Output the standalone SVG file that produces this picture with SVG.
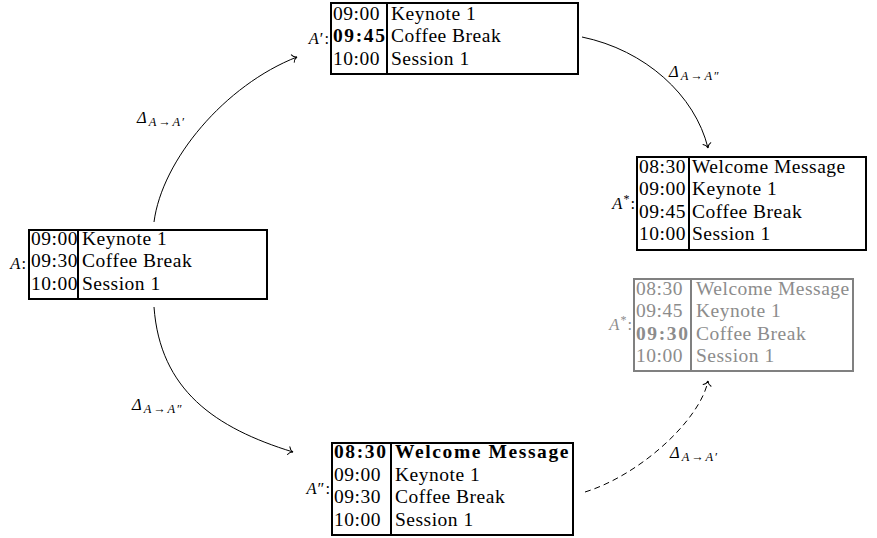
<svg xmlns="http://www.w3.org/2000/svg" width="877" height="538" viewBox="0 0 877 538">
  <style>
    .box { fill: #ffffff; stroke: #000000; stroke-width: 2; }
    .div { stroke: #000000; stroke-width: 2; }
    .t { font-family: "Liberation Serif", "Times New Roman", serif; font-size: 19.5px; letter-spacing: 0.5px; fill: #000000; }
    .b { font-weight: bold; letter-spacing: 1.6px; }
    .lab { font-family: "Liberation Serif", "Times New Roman", serif; font-size: 16.5px; letter-spacing: 1px; fill: #000000; }
    .it { font-style: italic; }
    .sub { font-size: 12.5px; letter-spacing: 1.8px; }
    .ghost .box, .ghost .div { stroke: #808080; }
    .ghost .t, .ghost .lab { fill: #8c8c8c; }
    .edge { fill: none; stroke: #000000; stroke-width: 1; }
    .dash { stroke-dasharray: 6 4; }
  </style>
  <defs>
    <marker id="to" markerUnits="userSpaceOnUse" markerWidth="12" markerHeight="12" viewBox="-6 -6 12 12" refX="0" refY="0" orient="auto">
      <path d="M-4.5,-4 C-3.5,-1.5 -1.2,-0.3 0,0 C-1.2,0.3 -3.5,1.5 -4.5,4" fill="none" stroke="#000000" stroke-width="1" stroke-linecap="round"/>
    </marker>
  </defs>

  <!-- transitions between schedule versions -->
  <g id="connectors">
    <path class="edge" d="M154,222 C162,160 225,85 297,57" marker-end="url(#to)"/>
    <path class="edge" d="M582,37 C645,50 695,95 708,148" marker-end="url(#to)"/>
    <path class="edge" d="M154,307 C160,390 215,428 293,452" marker-end="url(#to)"/>
    <path class="edge dash" d="M585,492 C640,475 700,420 708,381" marker-end="url(#to)"/>
    <text class="lab" x="137" y="123"><tspan class="it">Δ</tspan><tspan class="sub" dx="1" dy="3"><tspan class="it">A</tspan>→<tspan class="it">A</tspan>′</tspan></text>
    <text class="lab" x="669" y="77"><tspan class="it">Δ</tspan><tspan class="sub" dx="1" dy="3"><tspan class="it">A</tspan>→<tspan class="it">A</tspan>″</tspan></text>
    <text class="lab" x="132" y="410"><tspan class="it">Δ</tspan><tspan class="sub" dx="1" dy="3"><tspan class="it">A</tspan>→<tspan class="it">A</tspan>″</tspan></text>
    <text class="lab" x="670" y="458"><tspan class="it">Δ</tspan><tspan class="sub" dx="1" dy="3"><tspan class="it">A</tspan>→<tspan class="it">A</tspan>′</tspan></text>
  </g>

  <!-- original schedule A -->
  <g id="A">
    <rect class="box" x="29" y="230" width="238" height="69"/>
    <line class="div" x1="78" y1="230" x2="78" y2="299"/>
    <text class="lab" x="27" y="269" text-anchor="end"><tspan class="it">A</tspan>:</text>
    <text class="t" x="31" y="244.5">09:00</text><text class="t" x="82" y="244.5">Keynote 1</text>
    <text class="t" x="31" y="267">09:30</text><text class="t" x="82" y="267">Coffee Break</text>
    <text class="t" x="31" y="289.5">10:00</text><text class="t" x="82" y="289.5">Session 1</text>
  </g>

  <!-- A' : coffee break moved -->
  <g id="A1">
    <rect class="box" x="331" y="3" width="247" height="71"/>
    <line class="div" x1="387" y1="3" x2="387" y2="74"/>
    <text class="lab" x="330" y="44" text-anchor="end"><tspan class="it">A</tspan>′:</text>
    <text class="t" x="333" y="19.5">09:00</text><text class="t" x="391" y="19.5">Keynote 1</text>
    <text class="t b" x="333" y="42">09:45</text><text class="t" x="391" y="42">Coffee Break</text>
    <text class="t" x="333" y="64.5">10:00</text><text class="t" x="391" y="64.5">Session 1</text>
  </g>

  <!-- A* : merged result -->
  <g id="Astar">
    <rect class="box" x="637" y="157" width="229" height="93"/>
    <line class="div" x1="689" y1="157" x2="689" y2="250"/>
    <text class="lab" x="636" y="209" text-anchor="end"><tspan class="it">A</tspan><tspan font-size="12" dy="-6">*</tspan><tspan dy="6">:</tspan></text>
    <text class="t" x="639" y="172.5">08:30</text><text class="t" x="692" y="172.5">Welcome Message</text>
    <text class="t" x="639" y="195">09:00</text><text class="t" x="692" y="195">Keynote 1</text>
    <text class="t" x="639" y="217.5">09:45</text><text class="t" x="692" y="217.5">Coffee Break</text>
    <text class="t" x="639" y="240">10:00</text><text class="t" x="692" y="240">Session 1</text>
  </g>

  <!-- A* : alternative merge (greyed) -->
  <g id="Astar2" class="ghost">
    <rect class="box" x="634" y="279" width="219" height="92"/>
    <line class="div" x1="691" y1="279" x2="691" y2="371"/>
    <text class="lab" x="633" y="330" text-anchor="end"><tspan class="it">A</tspan><tspan font-size="12" dy="-6">*</tspan><tspan dy="6">:</tspan></text>
    <text class="t" x="636" y="294.5">08:30</text><text class="t" x="696" y="294.5">Welcome Message</text>
    <text class="t" x="636" y="317">09:45</text><text class="t" x="696" y="317">Keynote 1</text>
    <text class="t b" x="636" y="339.5">09:30</text><text class="t" x="696" y="339.5">Coffee Break</text>
    <text class="t" x="636" y="362">10:00</text><text class="t" x="696" y="362">Session 1</text>
  </g>

  <!-- A'' : welcome message added -->
  <g id="A2">
    <rect class="box" x="332" y="443" width="241" height="92"/>
    <line class="div" x1="391" y1="443" x2="391" y2="535"/>
    <text class="lab" x="331" y="494" text-anchor="end"><tspan class="it">A</tspan>″:</text>
    <text class="t b" x="334" y="458">08:30</text><text class="t b" x="395" y="458">Welcome Message</text>
    <text class="t" x="334" y="480.5">09:00</text><text class="t" x="395" y="480.5">Keynote 1</text>
    <text class="t" x="334" y="503">09:30</text><text class="t" x="395" y="503">Coffee Break</text>
    <text class="t" x="334" y="525.5">10:00</text><text class="t" x="395" y="525.5">Session 1</text>
  </g>
</svg>
